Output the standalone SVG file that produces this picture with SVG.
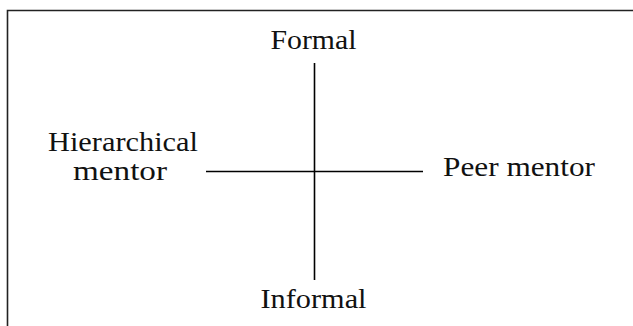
<svg xmlns="http://www.w3.org/2000/svg" width="633" height="326" viewBox="0 0 633 326">
  <style>
    .frame { fill: none; stroke: #222; stroke-width: 1.6; }
    .axis { fill: none; stroke: #000; stroke-width: 1.6; }
    .label { font-family: "Liberation Serif", "Times New Roman", serif; font-size: 27px; fill: #111; text-anchor: middle; }
  </style>
  <rect width="633" height="326" fill="#fff"/>
  <!-- open frame: top edge and left edge only -->
  <path class="frame" d="M633,10.5 H7.5 V326"/>
  <g id="connectors">
    <line class="axis" x1="314.5" y1="63" x2="314.5" y2="280"/>
    <line class="axis" x1="206" y1="171.5" x2="423" y2="171.5"/>
  </g>
  <g id="formal">
    <text class="label" x="313.5" y="49" textLength="86" lengthAdjust="spacingAndGlyphs">Formal</text>
  </g>
  <g id="informal">
    <text class="label" x="313.5" y="308" textLength="106" lengthAdjust="spacingAndGlyphs">Informal</text>
  </g>
  <g id="hierarchical-mentor">
    <text class="label" x="123" y="151" textLength="150" lengthAdjust="spacingAndGlyphs">Hierarchical</text>
    <text class="label" x="120" y="180" textLength="94" lengthAdjust="spacingAndGlyphs">mentor</text>
  </g>
  <g id="peer-mentor">
    <text class="label" x="519" y="176" textLength="152" lengthAdjust="spacingAndGlyphs">Peer mentor</text>
  </g>
</svg>
